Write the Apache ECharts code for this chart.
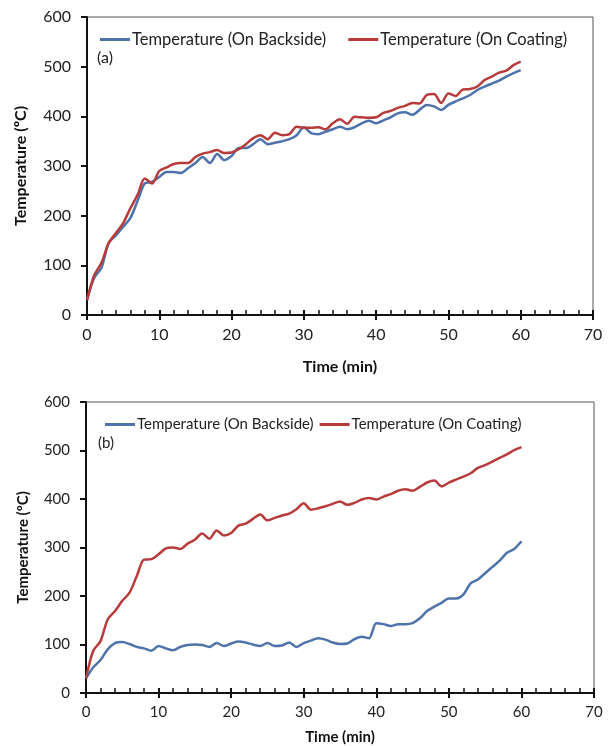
<!DOCTYPE html>
<html>
<head>
<meta charset="utf-8">
<script src="https://cdn.jsdelivr.net/npm/echarts@6/dist/echarts.min.js"></script>
<style>
  html, body { margin: 0; padding: 0; background: #fff; }
  #chart { width: 611px; height: 746px; }
</style>
</head>
<body>
<div id="chart"></div>
<script>
  // time in minutes, one reading per minute
  var minutes = [0,1,2,3,4,5,6,7,8,9,10,11,12,13,14,15,16,17,18,19,20,
    21,22,23,24,25,26,27,28,29,30,31,32,33,34,35,36,37,38,39,40,
    41,42,43,44,45,46,47,48,49,50,51,52,53,54,55,56,57,58,59,60];

  // (a)
  var backsideA = [30,75,95,145,160,178,195,230,265,268,
    278,288,288,286,296,306,318,306,324,312,
    320,336,336,344,354,344,347,350,354,362,
    378,366,364,369,374,379,374,378,386,391,
    386,392,398,406,408,403,413,423,420,413,
    423,430,436,443,453,460,466,472,480,487,
    493];
  var coatingA = [30,80,105,145,165,185,215,242,275,265,
    290,297,304,306,306,318,325,328,332,326,
    327,334,344,356,362,354,367,362,364,379,
    377,377,378,374,386,394,385,399,398,397,
    398,407,411,417,421,427,426,443,445,427,
    446,441,454,455,460,473,480,488,492,503,
    510];

  // (b)
  var backsideB = [30,53,68,90,103,105,101,95,92,87,
    97,92,88,95,99,100,99,95,103,97,
    102,106,104,100,97,103,97,98,104,95,
    103,108,113,110,104,101,102,111,116,113,
    144,142,138,142,142,144,154,169,178,186,
    195,195,203,226,234,247,260,273,289,297,
    313];
  var coatingB = [30,87,107,152,169,190,207,241,275,276,
    286,298,300,297,308,316,329,318,335,325,
    330,345,349,359,368,356,361,366,370,379,
    391,378,381,385,390,395,388,392,399,402,
    399,405,410,417,420,417,425,434,438,426,
    434,440,446,453,464,470,477,485,492,501,
    507];

  var yTicks = [0, 100, 200, 300, 400, 500, 600];
  var xTicks = [0, 10, 20, 30, 40, 50, 60, 70];

  var nameB = 'Temperature (On Backside)';
  var nameC = 'Temperature (On Coating)';
  var blue = '#4e73ab';
  var red = '#b83b3b';
  var font = 'Lato, "Open Sans", sans-serif';

  function pairs(vals) {
    return vals.map(function (v, i) { return [minutes[i], v]; });
  }

  function xAxes(grid, fs, titleGap) {
    return [{
      type: 'value', gridIndex: grid, min: xTicks[0], max: xTicks[xTicks.length - 1], interval: 10,
      axisLine: { lineStyle: { color: '#111', width: 2 } },
      axisTick: { length: 5, lineStyle: { color: '#111', width: 2 } },
      axisLabel: { color: '#222', fontSize: fs, fontFamily: font, margin: 12 },
      splitLine: { show: false },
      name: 'Time (min)', nameLocation: 'middle', nameGap: titleGap,
      nameTextStyle: { fontWeight: 'bold', fontSize: fs, color: '#111', fontFamily: font }
    }, {
      // inside ticks (major + minor) on the same axis
      type: 'value', gridIndex: grid, min: xTicks[0], max: xTicks[xTicks.length - 1], interval: 10,
      position: 'bottom',
      axisLine: { show: false },
      axisTick: { inside: true, length: 5, lineStyle: { color: '#111', width: 2 } },
      minorTick: { show: true, splitNumber: 5, length: 5, lineStyle: { color: '#111', width: 1.5 } },
      axisLabel: { show: false },
      splitLine: { show: false }
    }];
  }

  function yAxis(grid, fs, gap) {
    return {
      type: 'value', gridIndex: grid, min: yTicks[0], max: yTicks[yTicks.length - 1], interval: 100,
      axisLine: { show: true, lineStyle: { color: '#111', width: 2 } },
      axisTick: { show: true, length: 6, lineStyle: { color: '#111', width: 2 } },
      axisLabel: { color: '#222', fontSize: fs, fontFamily: font, margin: 16 },
      splitLine: { show: false },
      name: 'Temperature (ºC)', nameLocation: 'middle', nameGap: gap, nameRotate: 90,
      nameTextStyle: { fontWeight: 'bold', fontSize: fs, color: '#111', fontFamily: font }
    };
  }

  function line(name, data, color, xi, yi) {
    return {
      name: name, type: 'line', xAxisIndex: xi, yAxisIndex: yi,
      data: pairs(data), showSymbol: false, symbol: 'none', smooth: 0.3,
      lineStyle: { color: color, width: 2.5 }, itemStyle: { color: color },
      z: 3
    };
  }

  var myChart = echarts.init(document.getElementById('chart'));
  myChart.setOption({
    animation: false,
    backgroundColor: '#fff',
    title: [
      { text: '(a)', left: 92, top: 45, textStyle: { fontSize: 16, fontWeight: 'normal', color: '#222', fontFamily: font } },
      { text: '(b)', left: 93, top: 431, textStyle: { fontSize: 15, fontWeight: 'normal', color: '#222', fontFamily: font } }
    ],
    legend: [
      { data: [nameB, nameC], left: 95, top: 26, icon: 'rect', itemWidth: 30, itemHeight: 3, itemGap: 22,
        textStyle: { fontSize: 16.5, color: '#222', fontFamily: font, padding: [0, 0, 0, -3] } },
      { data: [nameB, nameC], left: 100, top: 412, icon: 'rect', itemWidth: 30, itemHeight: 3, itemGap: 6,
        textStyle: { fontSize: 15, color: '#222', fontFamily: font, padding: [0, 0, 0, -3] } }
    ],
    grid: [
      { left: 87, top: 17, width: 506, height: 298, show: true, borderColor: '#555', borderWidth: 1 },
      { left: 86, top: 402, width: 508, height: 292, show: true, borderColor: '#555', borderWidth: 1 }
    ],
    xAxis: xAxes(0, 16, 44).concat(xAxes(1, 15, 37)),
    yAxis: [yAxis(0, 16, 58), yAxis(1, 15, 55)],
    series: [
      line(nameB, backsideA, blue, 0, 0),
      line(nameC, coatingA, red, 0, 0),
      line(nameB, backsideB, blue, 2, 1),
      line(nameC, coatingB, red, 2, 1)
    ]
  });
</script>
</body>
</html>
